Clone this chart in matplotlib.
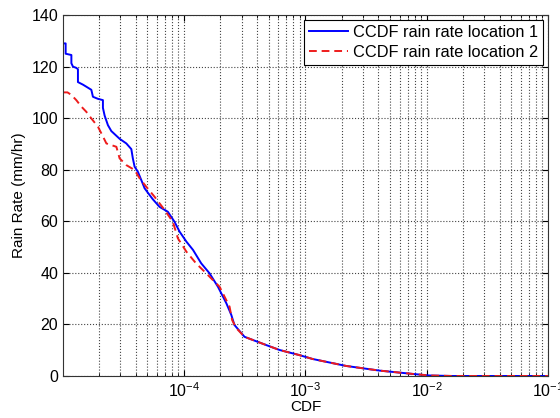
import matplotlib
matplotlib.use("Agg")
import matplotlib.pyplot as plt
from matplotlib.ticker import LogLocator, NullFormatter, FixedLocator, FixedFormatter

plt.rcParams["font.family"] = ["Liberation Sans", "DejaVu Sans"]
plt.rcParams["mathtext.fontset"] = "custom"
plt.rcParams["mathtext.rm"] = "Liberation Sans"
plt.rcParams["mathtext.default"] = "regular"

# ---- data (CDF, rain rate mm/hr) ----
cdf_loc1 = [1.01e-5, 1.062e-5, 1.062e-5, 1.184e-5, 1.184e-5, 1.22e-5, 1.30e-5, 1.341e-5,
            1.341e-5, 1.475e-5, 1.573e-5, 1.729e-5, 1.782e-5, 1.959e-5, 2.154e-5, 2.154e-5,
            2.225e-5, 2.368e-5, 2.526e-5, 2.957e-5, 3.357e-5, 3.692e-5, 3.80e-5, 3.928e-5,
            4.18e-5, 4.46e-5, 4.75e-5, 5.22e-5, 5.56e-5, 6.31e-5, 7.38e-5, 8.38e-5,
            9.22e-5, 1.05e-4, 1.19e-4, 1.39e-4, 1.63e-4, 1.91e-4, 2.24e-4, 2.46e-4,
            2.61e-4, 3.16e-4, 4.77e-4, 6.13e-4, 8.96e-4, 1.15e-3, 2.17e-3, 4.08e-3,
            7.68e-3, 1.05e-2, 1.63e-2, 1e-1]
rate_loc1 = [129, 129, 125, 124.5, 121.3, 120, 119.5, 119,
             114, 113, 112.2, 111, 108.3, 107.5, 107, 104,
             101, 97.3, 95, 92, 90.2, 88, 84.4, 81.2,
             79.2, 76, 72.8, 70.2, 68.5, 65.6, 63.7, 59.8,
             56, 52.1, 48.9, 43.7, 39.8, 34.6, 28.2, 23.7,
             19.8, 15.2, 12, 10.1, 8.1, 6.6, 3.9, 2.1,
             0.8, 0.2, 0, 0]

cdf_loc2 = [1.01e-5, 1.10e-5, 1.184e-5, 1.30e-5, 1.43e-5, 1.57e-5, 1.729e-5, 1.959e-5,
            2.15e-5, 2.30e-5, 2.78e-5, 2.957e-5, 3.357e-5, 3.928e-5, 4.32e-5, 4.90e-5,
            5.74e-5, 6.94e-5, 8.12e-5, 8.93e-5, 1.05e-4, 1.26e-4, 1.53e-4, 1.97e-4,
            2.38e-4, 2.50e-4, 2.70e-4, 3.16e-4, 4.77e-4, 6.13e-4, 8.96e-4, 1.15e-3,
            2.17e-3, 4.08e-3, 7.68e-3, 1.05e-2, 1.63e-2, 1e-1]
rate_loc2 = [110, 110, 109, 107, 104.5, 102.5, 99.9, 96.7,
             93, 90.2, 88.9, 84.4, 81.8, 79.9, 76.7, 73.4,
             69.5, 64.4, 59.8, 53.4, 48.2, 43.7, 39.8, 34.6,
             26.9, 21.7, 18.6, 15.2, 12, 10.1, 8.1, 6.6,
             3.9, 2.1, 0.8, 0.2, 0, 0]

labels = ["CCDF rain rate location 1", "CCDF rain rate location 2"]
x_major = [1e-4, 1e-3, 1e-2, 1e-1]
x_major_labels = ["$10^{-4}$", "$10^{-3}$", "$10^{-2}$", "$10^{-1}$"]

fig = plt.figure(figsize=(5.6, 4.18), dpi=100)
ax = fig.add_axes([0.1125, 0.1005, 0.866, 0.8635])

ax.plot(cdf_loc1, rate_loc1, color="#0000ff", lw=1.4, label=labels[0])
ax.plot(cdf_loc2, rate_loc2, color="#ee1c1c", lw=1.4, ls=(0, (4, 2.5)), label=labels[1])

ax.set_xscale("log")
ax.set_xlim(1.01e-5, 1e-1)
ax.set_ylim(0, 140)
ax.set_yticks(range(0, 141, 20))
ax.xaxis.set_major_locator(FixedLocator(x_major))
ax.xaxis.set_major_formatter(FixedFormatter(x_major_labels))
ax.xaxis.set_minor_locator(LogLocator(base=10, subs=range(2, 10), numticks=20))
ax.xaxis.set_minor_formatter(NullFormatter())

ax.grid(True, which="major", ls=":", color="#444444", lw=0.8)
ax.grid(True, which="minor", axis="x", ls=":", color="#444444", lw=0.8)
ax.tick_params(which="both", direction="in", top=True, right=True, labelsize=11.5)
ax.tick_params(which="major", length=4)
ax.tick_params(which="minor", length=2)
for s in ax.spines.values():
    s.set_color("#333333")

ax.set_xlabel("CDF", fontsize=11, labelpad=0)
ax.set_ylabel("Rain Rate (mm/hr)", fontsize=11)

leg = ax.legend(loc="upper right", fontsize=11.8, fancybox=False, framealpha=1,
                edgecolor="black", borderaxespad=0.3, handlelength=2.4,
                handletextpad=0.3, borderpad=0.3, labelspacing=0.3)
leg.get_frame().set_linewidth(0.8)

fig.savefig("out.png", dpi=100)
